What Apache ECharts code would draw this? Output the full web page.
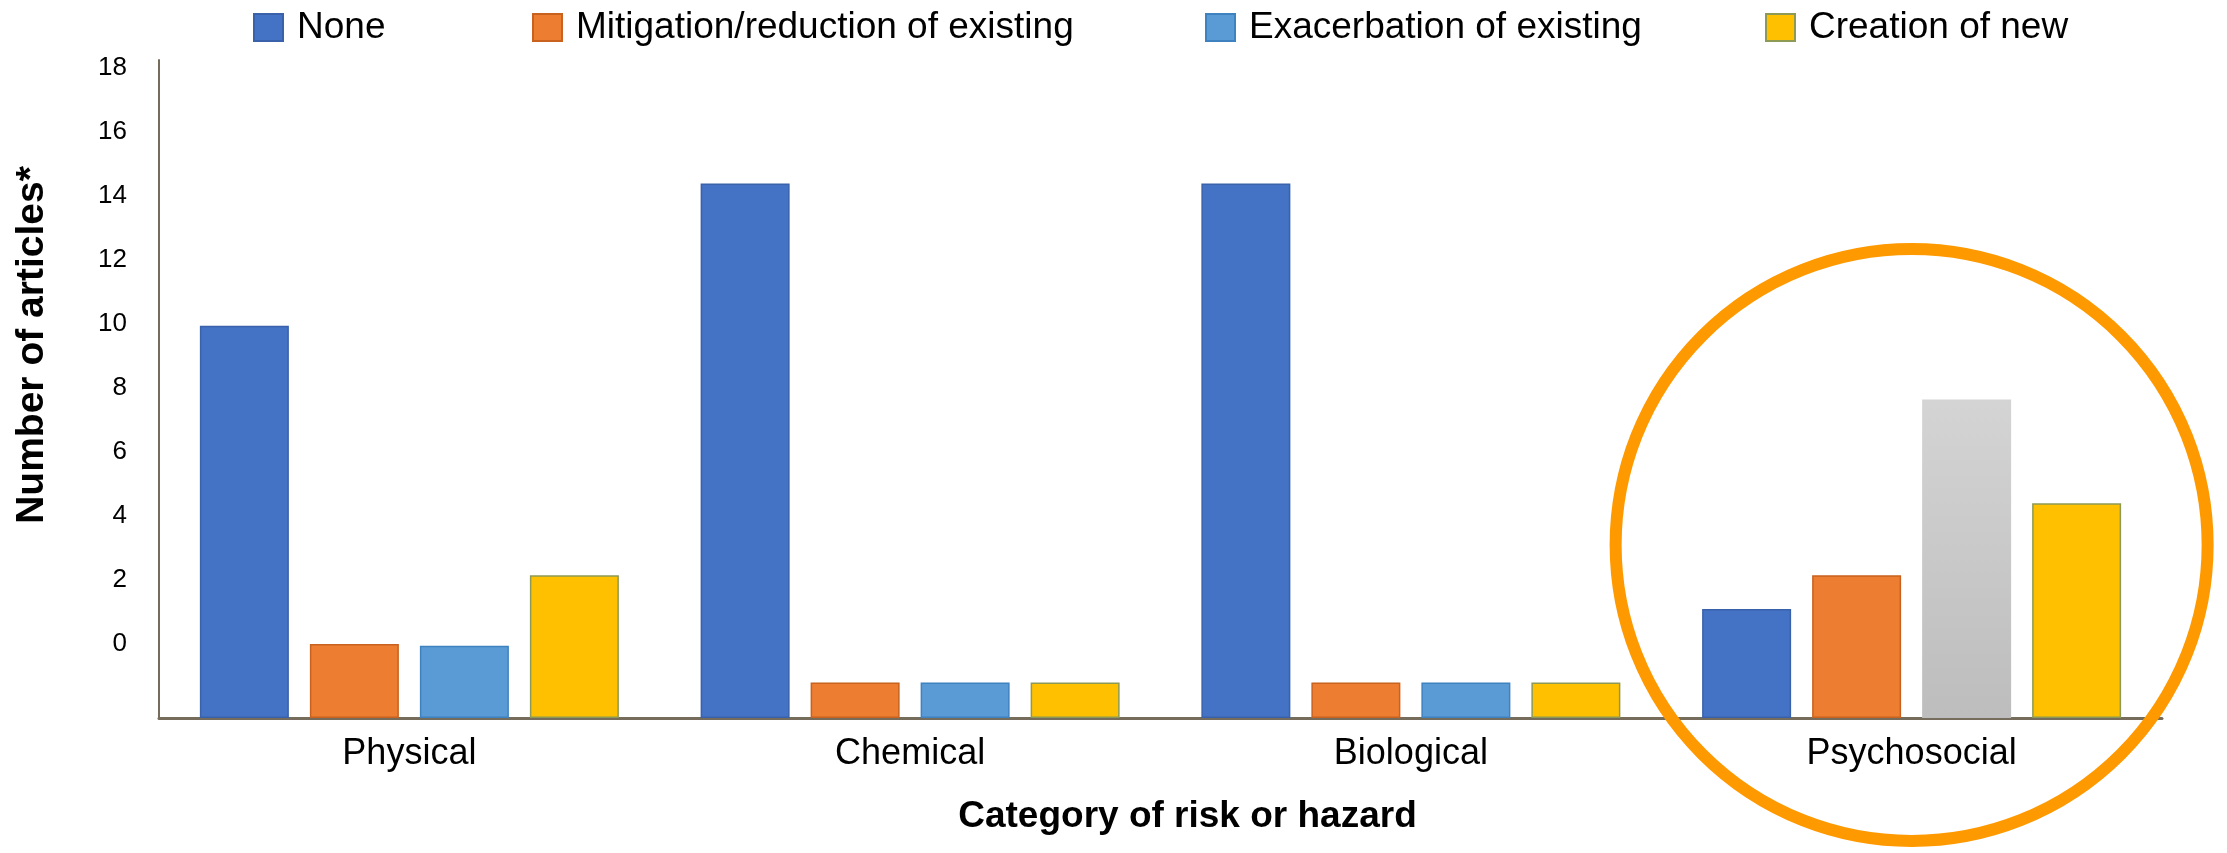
<!DOCTYPE html>
<html>
<head>
<meta charset="utf-8">
<script src="https://cdn.jsdelivr.net/npm/echarts@6/dist/echarts.min.js"></script>
<style>
  html, body { margin: 0; padding: 0; background: #ffffff; }
  #chart { width: 2227px; height: 853px; }
</style>
</head>
<body>
<div id="chart"></div>
<script>
// Categories of risk / hazard and the four kinds of effect
const categories = ['Physical', 'Chemical', 'Biological', 'Psychosocial'];
const seriesNames = ['None', 'Mitigation/reduction of existing', 'Exacerbation of existing', 'Creation of new'];

// Bar heights, read against the printed y-axis scale
const noneValues = [9.95, 14.4, 14.4, 1.1];
const mitigationValues = [0.0, -1.2, -1.2, 2.15];
const exacerbationValues = [-0.05, -1.2, -1.2, 7.65];
const creationValues = [2.15, -1.2, -1.2, 4.4];

// Printed y-axis tick labels and the axis extent
const yTickLabels = [0, 2, 4, 6, 8, 10, 12, 14, 16, 18];
const yMin = -2.31;
const yMax = 18.26;

// Category that gets the grey bar and the ring
const highlightedCategory = 'Psychosocial';

const FONT = '"Liberation Sans", Arial, sans-serif';
const AXIS_COLOR = '#766c5c';

const colors = ['#4472C4', '#ED7D31', '#5B9BD5', '#FFC000'];
const borders = ['#3A62AA', '#C8621E', '#3F82C0', '#8C9A55'];
const legendLefts = [248, 527, 1200, 1760];

const chart = echarts.init(document.getElementById('chart'), null, { renderer: 'canvas' });

const valueSets = [noneValues, mitigationValues, exacerbationValues, creationValues];
const hiIndex = categories.indexOf(highlightedCategory);

const series = seriesNames.map((name, si) => ({
  name: name,
  type: 'bar',
  barWidth: 89,
  barGap: '23.6%',
  itemStyle: { color: colors[si], borderColor: borders[si], borderWidth: 1.5 },
  data: valueSets[si].map((v, ci) => {
    if (si === 2 && ci === hiIndex) {
      return {
        value: v,
        itemStyle: {
          color: new echarts.graphic.LinearGradient(0, 0, 0, 1, [
            { offset: 0, color: '#D4D4D4' },
            { offset: 1, color: '#BDBDBD' }
          ]),
          borderWidth: 0
        }
      };
    }
    return v;
  })
}));

const legends = seriesNames.map((name, i) => ({
  data: [name],
  left: legendLefts[i],
  top: 4,
  icon: 'rect',
  itemWidth: 29,
  itemHeight: 27,
  selectedMode: false,
  textStyle: { fontFamily: FONT, fontSize: 37, color: '#000', padding: [0, 0, 0, 9] }
}));

chart.setOption({
  animation: false,
  backgroundColor: '#ffffff',
  textStyle: { fontFamily: FONT },
  legend: legends,
  grid: { left: 159, right: 65, top: 60, bottom: 135, containLabel: false },
  xAxis: {
    type: 'category',
    data: categories,
    axisLine: { show: true, onZero: false, lineStyle: { color: AXIS_COLOR, width: 3 } },
    axisTick: { show: false },
    axisLabel: { fontFamily: FONT, fontSize: 36, color: '#000', margin: 18 },
    name: 'Category of risk or hazard',
    nameLocation: 'middle',
    nameGap: 80,
    nameTextStyle: { fontFamily: FONT, fontSize: 37, fontWeight: 'bold', color: '#000', padding: [0, 0, 0, 54] }
  },
  yAxis: {
    type: 'value',
    min: yMin,
    max: yMax,
    startValue: yMin,
    axisLine: { show: true, lineStyle: { color: AXIS_COLOR, width: 2 } },
    axisTick: { show: false },
    splitLine: { show: false },
    axisLabel: {
      customValues: yTickLabels,
      fontFamily: FONT, fontSize: 26, color: '#000', margin: 32,
      formatter: v => String(v)
    },
    name: 'Number of articles*',
    nameLocation: 'middle',
    nameGap: 107,
    nameTextStyle: { fontFamily: FONT, fontSize: 39, fontWeight: 'bold', color: '#000', padding: [0, 0, 0, 88] }
  },
  series: series
});

// Ring drawn around the highlighted category group
const [cx, cy] = chart.convertToPixel({ gridIndex: 0 }, [hiIndex, 3.1]);
chart.setOption({
  graphic: [{
    type: 'circle',
    z: 100,
    shape: { cx: cx, cy: cy, r: 296 },
    style: { fill: 'none', stroke: '#FF9900', lineWidth: 12 }
  }]
});
</script>
</body>
</html>
